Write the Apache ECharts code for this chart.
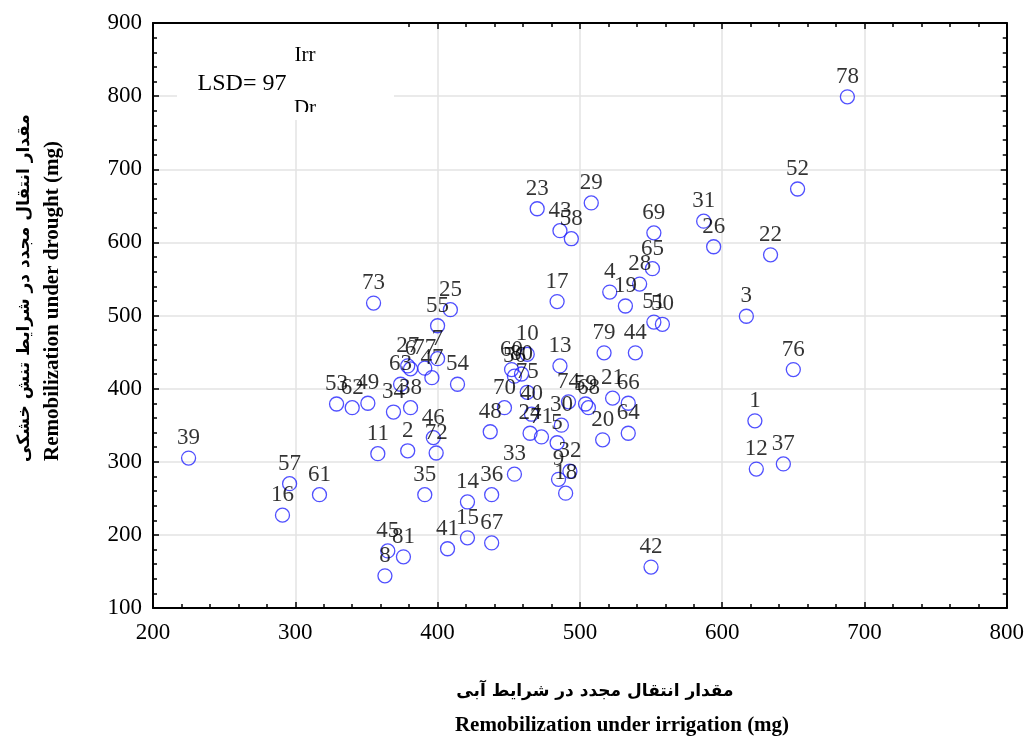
<!DOCTYPE html>
<html>
<head>
<meta charset="utf-8">
<script src="https://cdn.jsdelivr.net/npm/echarts@6/dist/echarts.min.js"></script>
<style>
  html, body { margin: 0; padding: 0; background: #fff; }
  #chart { width: 1027px; height: 738px; }
</style>
</head>
<body>
<div id="chart"></div>
<script>
// genotype numbers with their remobilization under irrigation (x) and under drought (y), mg
const genotypes = [
  1, 2, 3, 4, 5, 6, 7, 8, 9, 10,
  11, 12, 13, 14, 15, 16, 17, 18, 19, 20,
  21, 22, 23, 24, 25, 26, 27, 28, 29, 30,
  31, 32, 33, 34, 35, 36, 37, 38, 39, 40,
  41, 42, 43, 44, 45, 46, 47, 48, 49, 50,
  51, 52, 53, 54, 55, 56, 57, 58, 59, 60,
  61, 62, 63, 64, 65, 66, 67, 68, 69, 70,
  71, 72, 73, 74, 75, 76, 77, 78, 79, 80,
  81
]
const irrigation = [
  623, 379, 617, 521, 484, 381, 400, 363, 485, 463,
  358, 624, 486, 421, 421, 291, 484, 490, 532, 516,
  523, 634, 470, 465, 409, 594, 379, 542, 508, 487,
  587, 493, 454, 369, 391, 438, 643, 381, 225, 466,
  407, 550, 486, 539, 365, 397, 396, 437, 351, 558,
  552, 653, 329, 414, 400, 454, 296, 494, 504, 452,
  317, 340, 374, 534, 551, 534, 438, 506, 552, 447,
  473, 399, 355, 492, 463, 650, 391, 688, 517, 459,
  376
]
const drought = [
  356, 315, 499, 532, 326, 427, 441, 144, 276, 447,
  311, 290, 431, 245, 196, 227, 519, 257, 513, 330,
  387, 583, 646, 339, 508, 594, 431, 543, 654, 350,
  629, 287, 283, 368, 255, 255, 297, 374, 305, 365,
  181, 156, 616, 449, 178, 333, 415, 341, 380, 488,
  491, 673, 379, 406, 486, 417, 270, 605, 379, 426,
  255, 374, 406, 339, 564, 380, 189, 374, 613, 374,
  334, 312, 517, 382, 395, 426, 428, 799, 449, 420,
  170
]
const xTicks = [200, 800, 100]
const yTicks = [100, 900, 100]
const lsdValue = 97

const points = genotypes.map((id, i) => ({ name: String(id), value: [irrigation[i], drought[i]] }))

const serif = '"Liberation Serif", "Times New Roman", serif'
const frame = { show: true, onZero: false, lineStyle: { color: '#000', width: 2 } }
const ticks = { show: true, inside: true, length: 6, lineStyle: { color: '#000', width: 1.5 } }
const minorTicks = { show: true, splitNumber: 5, length: 4, lineStyle: { color: '#000', width: 1.5 } }
const grid = { lineStyle: { color: '#e3e3e3', width: 1.5 } }

const chart = echarts.init(document.getElementById('chart'))
chart.setOption({
  animation: false,
  backgroundColor: '#fff',
  grid: { left: 153, right: 20, top: 23, bottom: 130 },
  xAxis: [
    {
      type: 'value', min: xTicks[0], max: xTicks[1], interval: xTicks[2], position: 'bottom',
      axisLine: frame, axisTick: ticks, minorTick: minorTicks, splitLine: { show: true, ...grid },
      axisLabel: { color: '#000', fontSize: 23, fontFamily: serif, margin: 13 }
    },
    {
      type: 'value', min: xTicks[0], max: xTicks[1], interval: xTicks[2], position: 'top',
      axisLine: frame, axisTick: ticks, minorTick: minorTicks, splitLine: { show: false },
      axisLabel: { show: false }
    }
  ],
  yAxis: [
    {
      type: 'value', min: yTicks[0], max: yTicks[1], interval: yTicks[2], position: 'left',
      axisLine: frame, axisTick: ticks, minorTick: minorTicks, splitLine: { show: true, ...grid },
      axisLabel: { color: '#000', fontSize: 23, fontFamily: serif, margin: 11 }
    },
    {
      type: 'value', min: yTicks[0], max: yTicks[1], interval: yTicks[2], position: 'right',
      axisLine: frame, axisTick: ticks, minorTick: minorTicks, splitLine: { show: false },
      axisLabel: { show: false }
    }
  ],
  series: [
    {
      type: 'scatter',
      data: points,
      symbol: 'circle',
      symbolSize: 14,
      itemStyle: { color: 'rgba(0,0,0,0)', borderColor: '#2424ff', borderWidth: 1.3 },
      label: {
        show: true,
        position: 'top',
        distance: 1,
        formatter: p => p.name,
        color: '#000',
        fontSize: 23,
        fontFamily: serif
      },
      emphasis: { disabled: true }
    }
  ],
  graphic: [
    { type: 'rect', z: 100, shape: { x: 177, y: 24, width: 217, height: 96 }, style: { fill: '#fff' } },
    { type: 'text', z: 101, x: 305, y: 55, style: { text: 'Irr', font: '21px ' + serif, fill: '#000', align: 'center', verticalAlign: 'middle' } },
    { type: 'text', z: 101, x: 242, y: 84, style: { text: 'LSD= ' + lsdValue, font: '24px ' + serif, fill: '#000', align: 'center', verticalAlign: 'middle' } },
    { type: 'text', z: 101, x: 305, y: 108, style: { text: 'Dr', font: '21px ' + serif, fill: '#000', align: 'center', verticalAlign: 'middle' } },
    { type: 'rect', z: 102, shape: { x: 285, y: 112, width: 40, height: 8 }, style: { fill: '#fff' } },
    { type: 'text', z: 101, x: 595, y: 692, style: { text: 'مقدار انتقال مجدد در شرایط آبی', font: 'bold 17px "DejaVu Sans", sans-serif', fill: '#000', align: 'center', verticalAlign: 'middle' } },
    { type: 'text', z: 101, x: 622, y: 726, style: { text: 'Remobilization under irrigation (mg)', font: 'bold 21px ' + serif, fill: '#000', align: 'center', verticalAlign: 'middle' } },
    { type: 'text', z: 101, x: 25, y: 288, rotation: Math.PI / 2, style: { text: 'مقدار انتقال مجدد در شرایط تنش خشکی', font: 'bold 17px "DejaVu Sans", sans-serif', fill: '#000', align: 'center', verticalAlign: 'middle' } },
    { type: 'text', z: 101, x: 53, y: 301, rotation: Math.PI / 2, style: { text: 'Remobilization under drought (mg)', font: 'bold 21px ' + serif, fill: '#000', align: 'center', verticalAlign: 'middle' } }
  ]
})
</script>
</body>
</html>
